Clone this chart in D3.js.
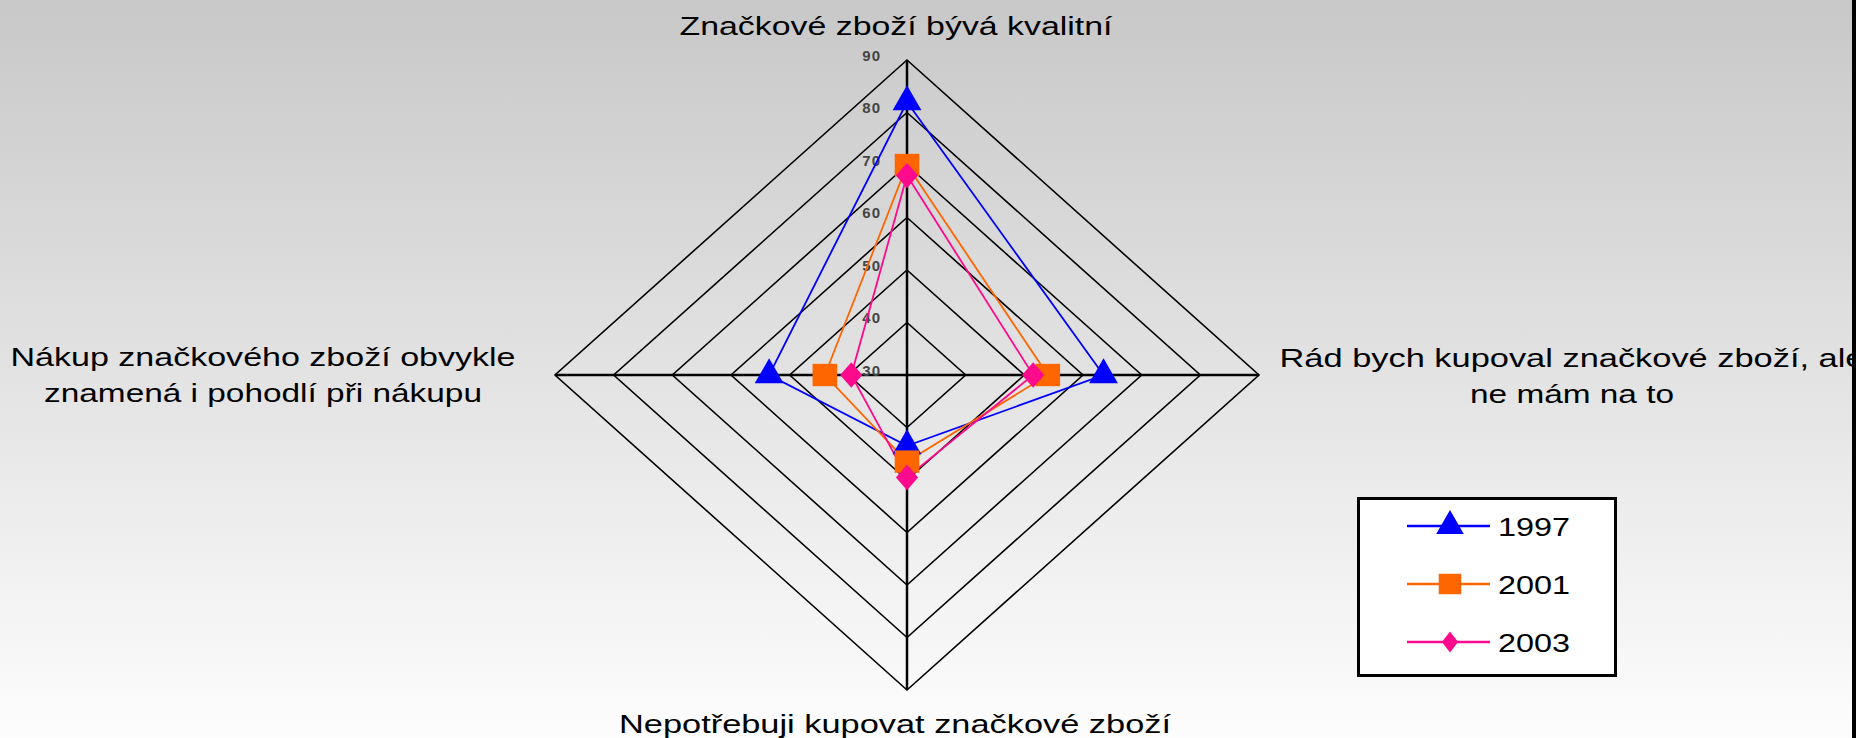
<!DOCTYPE html>
<html>
<head>
<meta charset="utf-8">
<script src="https://cdn.jsdelivr.net/npm/d3@7"></script>
<style>
  html, body { margin: 0; padding: 0; overflow: hidden; }
  text { font-family: "Liberation Sans", Arial, sans-serif; }
</style>
</head>
<body>
<svg width="1856" height="738"></svg>
<script>
var width = 1856, height = 738;

// categories, clockwise from the top
var categories = [
  ["Značkové zboží bývá kvalitní"],
  ["Rád bych kupoval značkové zboží, ale", "ne mám na to"],
  ["Nepotřebuji kupovat značkové zboží"],
  ["Nákup značkového zboží obvykle", "znamená i pohodlí při nákupu"]
];
var years = ["1997", "2001", "2003"];
var values1997 = [82, 63.5, 43.5, 53.5];
var values2001 = [70, 54, 46.5, 44];
var values2003 = [68, 51.5, 49.5, 39.5];
var tickValues = [30, 40, 50, 60, 70, 80, 90];

var seriesValues = [values1997, values2001, values2003];
var colors = ["#0000ff", "#ff6600", "#ff0a8c"];
var symbols = [d3.symbolTriangle, d3.symbolSquare, d3.symbolDiamond];
var markerSize = [360, 500, 190];
var markerStretch = [1, 1.1, 1.5];

var svg = d3.select('svg');

var defs = svg.append('defs');
var grad = defs.append('linearGradient')
  .attr('id', 'bg')
  .attr('x1', 0).attr('y1', 0).attr('x2', 0).attr('y2', 1);
grad.append('stop').attr('offset', '0%').attr('stop-color', '#c8c8c8');
grad.append('stop').attr('offset', '100%').attr('stop-color', '#fdfdfd');

svg.append('rect')
  .attr('width', width)
  .attr('height', height)
  .attr('fill', 'url(#bg)');

var cx = 907, cy = 375;
// the picture is a bit wider than tall, so x and y get their own scale
var rx = d3.scaleLinear().domain([30, 90]).range([0, 352]);
var ry = d3.scaleLinear().domain([30, 90]).range([0, 315]);
var angle = d3.scaleLinear().domain([0, categories.length]).range([0, 2 * Math.PI]);

function point(v, i) {
  var a = angle(i);
  return [cx + Math.sin(a) * rx(v), cy - Math.cos(a) * ry(v)];
}

var g = svg.append('g');

// rings
g.selectAll('.ring')
  .data(tickValues.slice(1))
  .enter()
  .append('polygon')
  .attr('class', 'ring')
  .attr('points', function(t) {
    return categories.map(function(c, i) { return point(t, i).join(','); }).join(' ');
  })
  .attr('fill', 'none')
  .attr('stroke', 'black')
  .attr('stroke-width', 1.6);

// spokes
g.selectAll('.spoke')
  .data(categories)
  .enter()
  .append('line')
  .attr('class', 'spoke')
  .attr('x1', cx).attr('y1', cy)
  .attr('x2', function(d, i) { return point(90, i)[0]; })
  .attr('y2', function(d, i) { return point(90, i)[1]; })
  .attr('stroke', 'black')
  .attr('stroke-width', 2.5);

// tick labels along the top spoke
g.selectAll('.tick')
  .data(tickValues)
  .enter()
  .append('text')
  .attr('class', 'tick')
  .attr('x', cx - 26)
  .attr('y', function(t) { return point(t, 0)[1] - 3; })
  .attr('text-anchor', 'end')
  .attr('dominant-baseline', 'middle')
  .attr('font-size', 15)
  .attr('font-weight', 'bold')
  .attr('fill', '#444')
  .attr('letter-spacing', 1)
  .text(function(t) { return t; });

// series
var line = d3.line().curve(d3.curveLinearClosed);

seriesValues.forEach(function(vals, s) {
  var pts = vals.map(function(v, i) { return point(v, i); });
  g.append('path')
    .attr('d', line(pts))
    .attr('fill', 'none')
    .attr('stroke', colors[s])
    .attr('stroke-width', 1.8);
});

seriesValues.forEach(function(vals, s) {
  var sym = d3.symbol().type(symbols[s]).size(markerSize[s]);
  g.selectAll('.m' + s)
    .data(vals)
    .enter()
    .append('path')
    .attr('class', 'm' + s)
    .attr('d', sym)
    .attr('transform', function(v, i) {
      var p = point(v, i);
      return 'translate(' + p[0] + ',' + p[1] + ')scale(' + markerStretch[s] + ',1)';
    })
    .attr('fill', colors[s]);
});

// category labels: [x, first baseline, width of each line]
var labelPos = [
  [896, 35, [433]],
  [1572, 367, [585, 204]],
  [895, 733, [552]],
  [263, 366, [505, 438]]
];

var labels = svg.append('g');
categories.forEach(function(c, i) {
  var lp = labelPos[i];
  c.forEach(function(txt, k) {
    labels.append('text')
      .attr('x', lp[0])
      .attr('y', lp[1] + k * 36)
      .attr('text-anchor', 'middle')
      .attr('font-size', 25)
      .attr('fill', 'black')
      .attr('textLength', lp[2][k])
      .attr('lengthAdjust', 'spacingAndGlyphs')
      .text(txt);
  });
});

// legend
var legend = svg.append('g').attr('transform', 'translate(1357,497)');
legend.append('rect')
  .attr('x', 1.5).attr('y', 1.5)
  .attr('width', 257).attr('height', 177)
  .attr('fill', 'white')
  .attr('stroke', 'black')
  .attr('stroke-width', 3);

var rows = legend.selectAll('.row')
  .data(years)
  .enter()
  .append('g')
  .attr('class', 'row')
  .attr('transform', function(d, i) { return 'translate(0,' + (29 + i * 58) + ')'; });

rows.append('line')
  .attr('x1', 50).attr('x2', 133)
  .attr('stroke', function(d, i) { return colors[i]; })
  .attr('stroke-width', 2.5);

rows.append('path')
  .attr('d', function(d, i) {
    return d3.symbol().type(symbols[i]).size([330, 420, 125][i])();
  })
  .attr('transform', function(d, i) { return 'translate(93,0)scale(' + [1, 1.1, 1.35][i] + ',1)'; })
  .attr('fill', function(d, i) { return colors[i]; });

rows.append('text')
  .attr('x', 141)
  .attr('y', 10)
  .attr('font-size', 26)
  .attr('textLength', 72)
  .attr('lengthAdjust', 'spacingAndGlyphs')
  .text(function(d) { return d; });

// dark strip on the right edge
svg.append('rect')
  .attr('x', 1852).attr('y', 0)
  .attr('width', 4).attr('height', height)
  .attr('fill', 'black');
</script>
</body>
</html>
